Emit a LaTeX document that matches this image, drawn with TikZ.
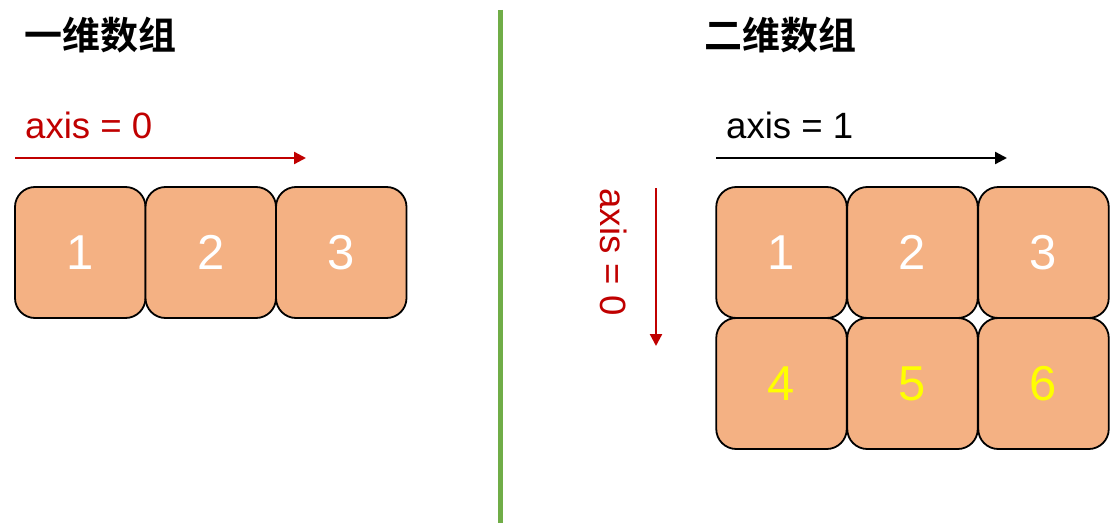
\documentclass[tikz,border=0pt]{standalone}
\usepackage{fontspec}
\setmainfont{Liberation Sans}
\newfontfamily\cjk{Noto Sans CJK SC Bold}
\usetikzlibrary{arrows.meta}
\definecolor{axred}{HTML}{C00000}
\definecolor{cellfill}{HTML}{F4B183}
\definecolor{sepgreen}{HTML}{70AD47}
\definecolor{ylw}{HTML}{FFFF00}
\begin{document}
\begin{tikzpicture}[x=1pt,y=-1pt,
  cell/.style={draw=black,line width=1.8pt,fill=cellfill,rounded corners=20pt,
    minimum width=130.5pt,minimum height=131pt,inner sep=0pt,
    font=\fontsize{49}{54}\selectfont},
  title/.style={font=\cjk\fontsize{38}{42}\selectfont,anchor=west,inner sep=0pt},
  axlabel/.style={font=\fontsize{36.6}{42}\selectfont,inner sep=0pt},
  axarrow/.style={line width=2.3pt,-{Triangle[length=12pt,width=12pt]}}]
\useasboundingbox (0,0) rectangle (1110,527);
% separator
\coordinate (gtop) at (500.5,10);
\coordinate (gbot) at (500.5,523);
\draw[sepgreen,line width=4.5pt] (gtop) -- (gbot);
% titles
\node[title] (t1) at (24,35) {一维数组};
\node[title] (t2) at (704,35) {二维数组};
% left side
\node[axlabel,text=axred,anchor=base west] (l0) at (25,138) {axis = 0};
\coordinate (a0s) at (15,158);
\coordinate (a0e) at (306,158);
\draw[axarrow,axred] (a0s) -- (a0e);
\node[cell,text=white] (c1) at (80.25,252.5) {1};
\node[cell,text=white] (c2) at (210.75,252.5) {2};
\node[cell,text=white] (c3) at (341.25,252.5) {3};
% right side
\node[axlabel,text=black,anchor=base west] (l1) at (726,138) {axis = 1};
\coordinate (a1s) at (716,158);
\coordinate (a1e) at (1007,158);
\draw[axarrow,black] (a1s) -- (a1e);
\node[axlabel,text=axred,rotate=-90] (lv) at (614,252) {axis = 0};
\coordinate (avs) at (656,188);
\coordinate (ave) at (656,346);
\draw[axarrow,axred] (avs) -- (ave);
\node[cell,text=white] (d1) at (781.5,252.5) {1};
\node[cell,text=white] (d2) at (912.5,252.5) {2};
\node[cell,text=white] (d3) at (1043.5,252.5) {3};
\node[cell,text=ylw] (d4) at (781.5,383.5) {4};
\node[cell,text=ylw] (d5) at (912.5,383.5) {5};
\node[cell,text=ylw] (d6) at (1043.5,383.5) {6};
\end{tikzpicture}
\end{document}
